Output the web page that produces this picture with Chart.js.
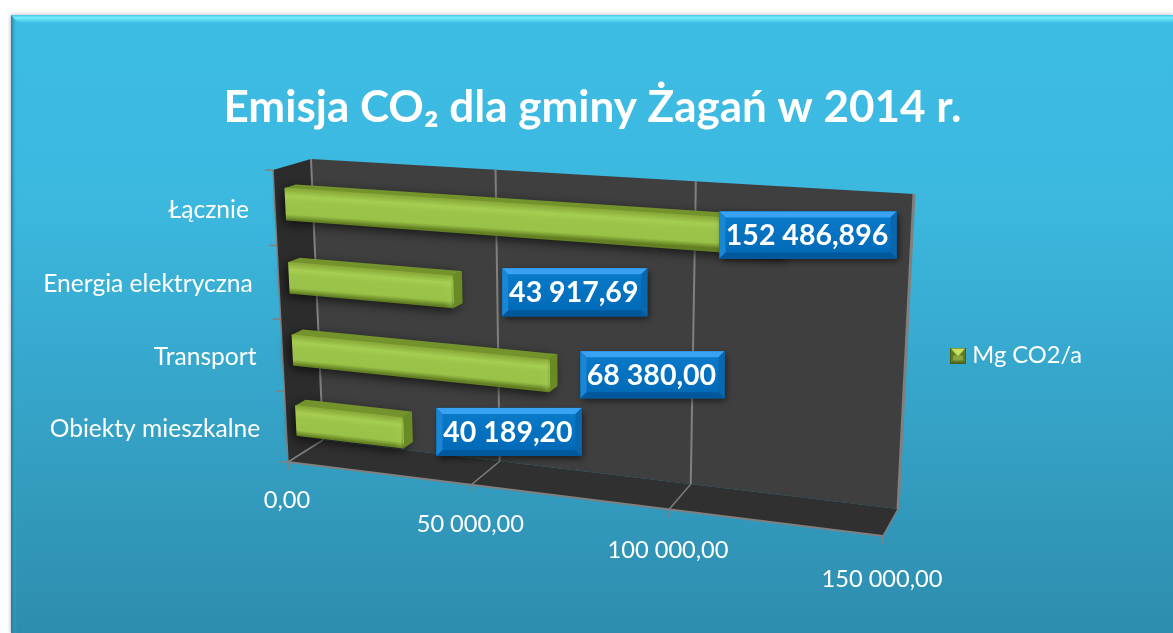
<!DOCTYPE html>
<html>
<head>
<meta charset="utf-8">
<style>
  html, body { margin: 0; padding: 0; background: #fff; overflow: hidden; }
  canvas { display: block; }
</style>
<script src="https://cdn.jsdelivr.net/npm/chart.js@4"></script>
</head>
<body>
<canvas id="chart-1" width="1173" height="633"></canvas>
<script>
// DATA
const categories = ['Łącznie', 'Energia elektryczna', 'Transport', 'Obiekty mieszkalne'];
// bar lengths
const barValues = [152486.896, 43917.69, 68380, 29500];
// figures printed on the blue boxes
const valueLabels = ['152 486,896', '43 917,69', '68 380,00', '40 189,20'];
const xTickLabels = ['0,00', '50 000,00', '100 000,00', '150 000,00'];
const seriesName = 'Mg CO2/a';
const titleText = 'Emisja CO₂ dla gminy Żagań w 2014 r.';

const FONT = 'Lato, "Open Sans", sans-serif';

// corners of the 3D box on the page
const backPlane = quadMap([311, 159], [914, 194], [898, 509], [323, 440]);
const frontPlane = quadMap([273, 170], [896, 210], [883, 536], [288, 462]);
const barFront = 0.3;
const barBack = 0.58;
// the longest bar runs off the axis and ends hidden under its box
const barCutValue = 125000;

// where each blue box sits relative to the tip of its bar
const boxOffsets = [[-185, -31], [41, -19], [24, -19], [25, -19]];
const boxSizes = [[177, 47], [145, 48], [144, 47], [145, 48]];

function quadMap(p0, p1, p2, p3) {
  const dx1 = p1[0] - p2[0], dx2 = p3[0] - p2[0], sx = p0[0] - p1[0] + p2[0] - p3[0];
  const dy1 = p1[1] - p2[1], dy2 = p3[1] - p2[1], sy = p0[1] - p1[1] + p2[1] - p3[1];
  const den = dx1 * dy2 - dx2 * dy1;
  const g = (sx * dy2 - dx2 * sy) / den;
  const h = (dx1 * sy - sx * dy1) / den;
  const a = p1[0] - p0[0] + g * p1[0], b = p3[0] - p0[0] + h * p3[0];
  const d = p1[1] - p0[1] + g * p1[1], e = p3[1] - p0[1] + h * p3[1];
  return (u, v) => {
    const w = g * u + h * v + 1;
    return [(a * u + b * v + p0[0]) / w, (d * u + e * v + p0[1]) / w];
  };
}

// u along the value axis, v down the category axis, z from front (0) to back (1)
function project(u, v, z) {
  const f = frontPlane(u, v), b = backPlane(u, v);
  return [f[0] + (b[0] - f[0]) * z, f[1] + (b[1] - f[1]) * z];
}

function poly(ctx, pts, fill) {
  ctx.beginPath();
  pts.forEach((p, i) => i ? ctx.lineTo(p[0], p[1]) : ctx.moveTo(p[0], p[1]));
  ctx.closePath();
  if (fill) { ctx.fillStyle = fill; ctx.fill(); }
}

function line(ctx, a, b, color, width) {
  ctx.strokeStyle = color;
  ctx.lineWidth = width;
  ctx.beginPath();
  ctx.moveTo(a[0], a[1]);
  ctx.lineTo(b[0], b[1]);
  ctx.stroke();
}

// legend marker, with empty room on the left to sit it closer to the text
function makeSwatch() {
  const c = document.createElement('canvas');
  c.width = 26; c.height = 16;
  const g = c.getContext('2d');
  g.translate(10, 0);
  g.fillStyle = '#5f7a22'; g.fillRect(0, 0, 16, 16);
  poly(g, [[0, 0], [16, 0], [8, 9]], '#c6e05e');
  g.fillStyle = '#8aa63a'; g.fillRect(3, 8, 10, 5);
  g.strokeStyle = '#4a5f18'; g.strokeRect(0.5, 0.5, 15, 15);
  return c;
}

// blue panel behind everything
const panelPlugin = {
  id: 'panel',
  beforeDraw(chart) {
    const ctx = chart.ctx;
    const L = 11, T = 15, R = 1173, B = 633;
    ctx.save();
    ctx.shadowColor = 'rgba(0,0,0,0.35)';
    ctx.shadowBlur = 4;
    const bg = ctx.createLinearGradient(0, T, 0, B);
    bg.addColorStop(0, '#3dbde4');
    bg.addColorStop(0.3, '#3cb8df');
    bg.addColorStop(1, '#2e8dae');
    ctx.fillStyle = bg;
    ctx.fillRect(L, T, R - L, B - T);
    ctx.restore();
    const top = ctx.createLinearGradient(0, T, 0, T + 8);
    top.addColorStop(0, '#45c8e8');
    top.addColorStop(0.35, '#74f0fb');
    top.addColorStop(1, '#3dbde4');
    poly(ctx, [[L, T], [R, T], [R, T + 8], [L + 8, T + 8]], top);
    const left = ctx.createLinearGradient(L, 0, L + 6, 0);
    left.addColorStop(0, 'rgba(30,120,150,0.9)');
    left.addColorStop(1, 'rgba(60,185,225,0)');
    poly(ctx, [[L, T], [L + 6, T + 8], [L + 6, B], [L, B]], left);
  }
};

// walls, floor and grid, following the value scale
const boxPlugin = {
  id: 'box3d',
  beforeDatasetsDraw(chart) {
    const ctx = chart.ctx, area = chart.chartArea, xs = chart.scales.x;
    const grey = '#808080';
    const uOf = px => (px - area.left) / area.width;
    poly(ctx, [project(0, 0, 0), project(0, 0, 1), project(0, 1, 1), project(0, 1, 0)], '#2c2c2c');
    poly(ctx, [project(0, 0, 1), project(1, 0, 1), project(1, 1, 1), project(0, 1, 1)], '#3f3f3f');
    poly(ctx, [project(0, 1, 0), project(1, 1, 0), project(1, 1, 1), project(0, 1, 1)], '#303030');

    xs.ticks.forEach((t, i) => {
      const u = uOf(xs.getPixelForTick(i));
      const w = i === 3 ? 3 : 2;
      line(ctx, project(u, 0, 1), project(u, 1, 1), grey, w);
      line(ctx, project(u, 1, 1), project(u, 1, 0), grey, 1.5);
      const p = project(u, 1, 0);
      line(ctx, p, [p[0], p[1] + 8], grey, 1.5);
    });
    line(ctx, project(0, 1, 0), project(1, 1, 0), grey, 2);
    line(ctx, project(0, 0, 0), project(0, 1, 0), grey, 1.5);

    // category ticks on the left edge
    [0, 1, 2, 3, 4].forEach(k => {
      const p = project(0, k / 4, 0);
      line(ctx, p, [p[0] - 8, p[1]], grey, 1.5);
    });
  }
};

// bars, drawn from the bar elements the library laid out
const barPlugin = {
  id: 'bars3d',
  afterDatasetsDraw(chart) {
    const ctx = chart.ctx, area = chart.chartArea;
    const cut = chart.scales.x.getPixelForValue(barCutValue);
    const uOf = px => (Math.min(px, cut) - area.left) / area.width;
    const vOf = py => (py - area.top) / area.height;
    chart.getDatasetMeta(0).data.forEach(el => {
      const u1 = uOf(el.x);
      const v0 = vOf(el.y - el.height / 2), v1 = vOf(el.y + el.height / 2);
      const tl = project(0, v0, barFront), tr = project(u1, v0, barFront);
      const bl = project(0, v1, barFront), br = project(u1, v1, barFront);
      const tlb = project(0, v0, barBack), trb = project(u1, v0, barBack);
      const brb = project(u1, v1, barBack);

      // soft shadow on the wall
      ctx.save();
      ctx.shadowColor = 'rgba(0,0,0,0.75)';
      ctx.shadowBlur = 12;
      ctx.shadowOffsetX = -3;
      ctx.shadowOffsetY = 3;
      poly(ctx, [tl, tlb, trb, brb, br, bl], '#5c7a20');
      ctx.restore();

      ctx.lineJoin = 'round';
      ctx.lineWidth = 2;
      poly(ctx, [tl, tr, trb, tlb], '#74932c');
      ctx.strokeStyle = '#74932c'; ctx.stroke();
      poly(ctx, [tr, trb, brb, br], '#6a8a26');
      ctx.strokeStyle = '#6a8a26'; ctx.stroke();

      // front face shading runs across the bar, not along it
      const sx = tr[0] - tl[0], sy = tr[1] - tl[1], len = Math.hypot(sx, sy);
      const thick = bl[1] - tl[1];
      const g = ctx.createLinearGradient(tl[0], tl[1], tl[0] - sy / len * thick, tl[1] + sx / len * thick);
      g.addColorStop(0, '#8aac3a');
      g.addColorStop(0.22, '#a6ce52');
      g.addColorStop(0.4, '#9cc44a');
      g.addColorStop(0.82, '#9ac248');
      g.addColorStop(1, '#627f22');
      poly(ctx, [tl, tr, br, bl], g);
      ctx.strokeStyle = g; ctx.lineWidth = 2; ctx.stroke();

      // rounded end of the bar
      const e = ctx.createLinearGradient(tr[0] - 8, 0, tr[0] + 1, 0);
      e.addColorStop(0, 'rgba(170,210,85,0)');
      e.addColorStop(0.7, 'rgba(170,210,85,0.25)');
      e.addColorStop(1, 'rgba(90,120,30,0.6)');
      poly(ctx, [[tr[0] - 8, tr[1] - 0.6], tr, br, [br[0] - 8, br[1] - 0.6]], e);
    });
  }
};

function drawBox(ctx, x, y, w, h, text) {
  const b = 6;
  ctx.save();
  ctx.shadowColor = 'rgba(0,0,0,0.6)';
  ctx.shadowBlur = 7;
  ctx.shadowOffsetX = 2;
  ctx.shadowOffsetY = 3;
  ctx.fillStyle = '#0070c0';
  ctx.fillRect(x, y, w, h);
  ctx.restore();
  const m = ctx.createLinearGradient(0, y, 0, y + h);
  m.addColorStop(0, '#0a7ccb');
  m.addColorStop(1, '#0068b5');
  ctx.fillStyle = m;
  ctx.fillRect(x, y, w, h);
  poly(ctx, [[x, y], [x + w, y], [x + w - b, y + b], [x + b, y + b]], '#3aa2f2');
  poly(ctx, [[x, y], [x + b, y + b], [x + b, y + h - b], [x, y + h]], '#1a86d6');
  poly(ctx, [[x + w, y], [x + w - b, y + b], [x + w - b, y + h - b], [x + w, y + h]], '#0a66ad');
  poly(ctx, [[x, y + h], [x + b, y + h - b], [x + w - b, y + h - b], [x + w, y + h]], '#00589c');
  ctx.fillStyle = '#fff';
  ctx.font = 'bold 28.5px ' + FONT;
  ctx.textAlign = 'center';
  ctx.textBaseline = 'middle';
  ctx.fillText(text, x + w / 2 - 1, y + h / 2 + 1);
}

// axis texts follow the box, boxes follow the bar tips
const textPlugin = {
  id: 'texts3d',
  afterDatasetsDraw(chart) {
    const ctx = chart.ctx, area = chart.chartArea, xs = chart.scales.x, ys = chart.scales.y;
    ctx.save();
    ctx.fillStyle = '#fff';
    ctx.font = '23.6px ' + FONT;
    ctx.textBaseline = 'middle';
    ctx.textAlign = 'center';
    xs.ticks.forEach((t, i) => {
      const u = (xs.getPixelForTick(i) - area.left) / area.width;
      const p = project(u, 1, 0);
      ctx.fillText(t.label, p[0] - 1, p[1] + 38 + 5 * u);
    });
    ctx.textAlign = 'right';
    ctx.font = '24.6px ' + FONT;
    ys.ticks.forEach((t, i) => {
      const p = project(0, (ys.getPixelForTick(i) - area.top) / area.height, 0);
      ctx.fillText(ys.getLabelForValue(t.value), p[0] - 26, p[1] + 2);
    });
    chart.getDatasetMeta(0).data.forEach((el, i) => {
      const u = (Math.min(el.x, area.right) - area.left) / area.width;
      const v = (el.y - area.top) / area.height;
      const tip = project(u, v, barBack);
      drawBox(ctx, tip[0] + boxOffsets[i][0], tip[1] + boxOffsets[i][1], boxSizes[i][0], boxSizes[i][1], valueLabels[i]);
    });
    ctx.restore();
  }
};

const config = {
  type: 'bar',
  data: {
    labels: categories,
    datasets: [{
      label: seriesName,
      data: barValues,
      backgroundColor: 'transparent',
      borderWidth: 0,
      barPercentage: 1,
      categoryPercentage: 0.41
    }]
  },
  options: {
    indexAxis: 'y',
    responsive: false,
    animation: false,
    layout: { padding: { left: 93, right: 81, top: 81, bottom: 3 } },
    scales: {
      x: {
        min: 0,
        max: 150000,
        ticks: { display: false, stepSize: 50000, callback: (v, i) => xTickLabels[i] },
        grid: { display: false },
        border: { display: false }
      },
      y: {
        ticks: { display: false },
        grid: { display: false },
        border: { display: false }
      }
    },
    plugins: {
      title: {
        display: true,
        text: titleText,
        color: '#fff',
        font: { family: FONT, size: 44, weight: 'bold' },
        padding: 0
      },
      legend: {
        position: 'right',
        labels: {
          color: '#fff',
          font: { family: FONT, size: 23.7 },
          usePointStyle: true,
          pointStyle: makeSwatch(),
          boxWidth: 15,
          boxHeight: 15
        }
      },
      tooltip: { enabled: false }
    }
  },
  plugins: [panelPlugin, boxPlugin, barPlugin, textPlugin]
};

const ctx = document.getElementById('chart-1').getContext('2d');
const myChart = new Chart(ctx, config);
</script>
</body>
</html>
